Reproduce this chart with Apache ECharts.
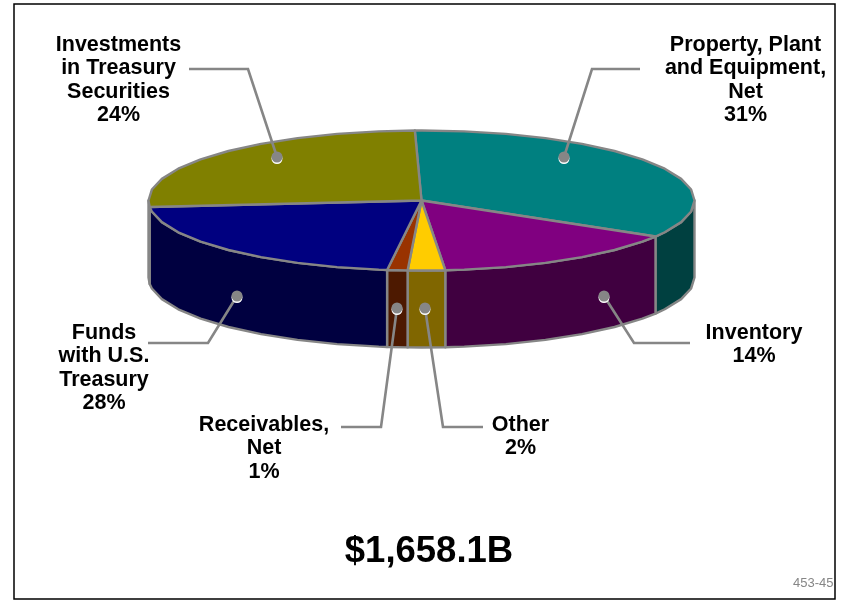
<!DOCTYPE html>
<html><head><meta charset="utf-8">
<style>html,body{margin:0;padding:0;background:#fff}#c{width:849px;height:601px}</style>
<script src="https://cdn.jsdelivr.net/npm/echarts@6/dist/echarts.min.js"></script>
</head><body><div id="c"></div>
<script>
// Data, clockwise from the top of the disc
const categories = ['Property, Plant\nand Equipment,\nNet', 'Inventory', 'Other', 'Receivables,\nNet', 'Funds\nwith U.S.\nTreasury', 'Investments\nin Treasury\nSecurities'];
const percents = [31, 14, 2, 1, 28, 24];
// Share of the disc each slice takes in the picture (the drawing is not to scale with its labels)
const drawnShares = [34.0, 15.0, 2.2, 1.2, 21.5, 26.1];
const total = '$1,658.1B';
const docId = '453-45';

// Style and layout
const topColors = ['#008080', '#800080', '#FFCC00', '#993300', '#000080', '#808000'];
const sideColors = ['#004040', '#400040', '#806600', '#4D1900', '#000040', '#404000'];
const GRAY = '#868686';
const disc = {cx: 421.5, cy: 200.5, rx: 273, ry: 70, depth: 77, startDeg: -1.4, stepDeg: 9};
const leaders = [
  {dot: [564, 157], path: [[640, 69], [592, 69]], text: [745.5, 45]},
  {dot: [604, 296], path: [[690, 343], [634, 343]], text: [754, 333]},
  {dot: [425, 308], path: [[483, 427], [443, 427]], text: [520.5, 425]},
  {dot: [397, 308], path: [[341, 427], [381, 427]], text: [264, 425]},
  {dot: [237, 296], path: [[148, 343], [208, 343]], text: [104, 333]},
  {dot: [277, 157], path: [[189, 69], [248, 69]], text: [118.5, 45]}
];
const LINE_H = 23.3;

const rad = d => d * Math.PI / 180;
const pt = (deg, dy) => [disc.cx + disc.rx * Math.sin(rad(deg)), disc.cy - disc.ry * Math.cos(rad(deg)) + (dy || 0)];
const sum = drawnShares.reduce((a, b) => a + b, 0);
const spans = [];
drawnShares.reduce((acc, v) => {
  const a = acc + v / sum * 360; spans.push([acc, a]); return a;
}, disc.startDeg);

function arc(a, b) {
  const out = [a];
  const first = Math.ceil(a / disc.stepDeg) * disc.stepDeg;
  for (let d = first; d < b; d += disc.stepDeg) if (d > a + 0.01) out.push(d);
  out.push(b);
  return out;
}
function renderSide(params, api) {
  const i = api.value(0);
  const a = Math.max(spans[i][0], 90), b = Math.min(spans[i][1], 270);
  if (b <= a) return {type: 'group', children: []};
  const degs = arc(a, b);
  const pts = degs.map(d => pt(d)).concat(degs.slice().reverse().map(d => pt(d, disc.depth)));
  return {type: 'polygon', shape: {points: pts},
    style: {fill: sideColors[i], stroke: GRAY, lineWidth: 2.4, lineJoin: 'round'}};
}
function renderTop(params, api) {
  const i = api.value(0);
  const pts = [[disc.cx, disc.cy]].concat(arc(spans[i][0], spans[i][1]).map(d => pt(d)));
  return {type: 'polygon', shape: {points: pts},
    style: {fill: topColors[i], stroke: GRAY, lineWidth: 2.4, lineJoin: 'round'}};
}
function renderLeader(params, api) {
  const i = api.value(0), L = leaders[i];
  return {type: 'group', children: [
    {type: 'polyline', shape: {points: L.path.concat([L.dot])}, style: {fill: 'none', stroke: GRAY, lineWidth: 2.6}},
    {type: 'circle', shape: {cx: L.dot[0], cy: L.dot[1] + 1.5, r: 5.5}, style: {fill: '#fff'}},
    {type: 'circle', shape: {cx: L.dot[0], cy: L.dot[1], r: 5.5}, style: {fill: GRAY}},
    {type: 'text', style: {
      x: L.text[0], y: L.text[1] - LINE_H / 2,
      text: categories[i] + '\n' + percents[i] + '%',
      align: 'center', verticalAlign: 'top',
      font: 'bold 21.5px "Liberation Sans", Arial, sans-serif', lineHeight: LINE_H, fill: '#000'
    }}
  ]};
}
const idx = categories.map((_, i) => [i]);
const chart = echarts.init(document.getElementById('c'), null, {renderer: 'canvas'});
chart.setOption({
  animation: false,
  backgroundColor: '#fff',
  title: {text: total, left: 424, top: 528, textAlign: 'center',
    textStyle: {fontFamily: '"Liberation Sans", Arial, sans-serif', fontWeight: 'bold', fontSize: 36.5, color: '#000'}},
  graphic: [
    {type: 'rect', shape: {x: 14, y: 4, width: 821, height: 595}, style: {fill: 'none', stroke: '#000', lineWidth: 1.5}, z: -1},
    {type: 'text', style: {x: 793, y: 577, text: docId, font: '13px "Liberation Sans", Arial, sans-serif', fill: GRAY}}
  ],
  series: [
    {type: 'custom', coordinateSystem: 'none', data: idx, renderItem: renderSide, z: 1, silent: true},
    {type: 'custom', coordinateSystem: 'none', data: idx, renderItem: renderTop, z: 2, silent: true},
    {type: 'custom', coordinateSystem: 'none', data: idx, renderItem: renderLeader, z: 3, silent: true}
  ]
});
</script></body></html>
